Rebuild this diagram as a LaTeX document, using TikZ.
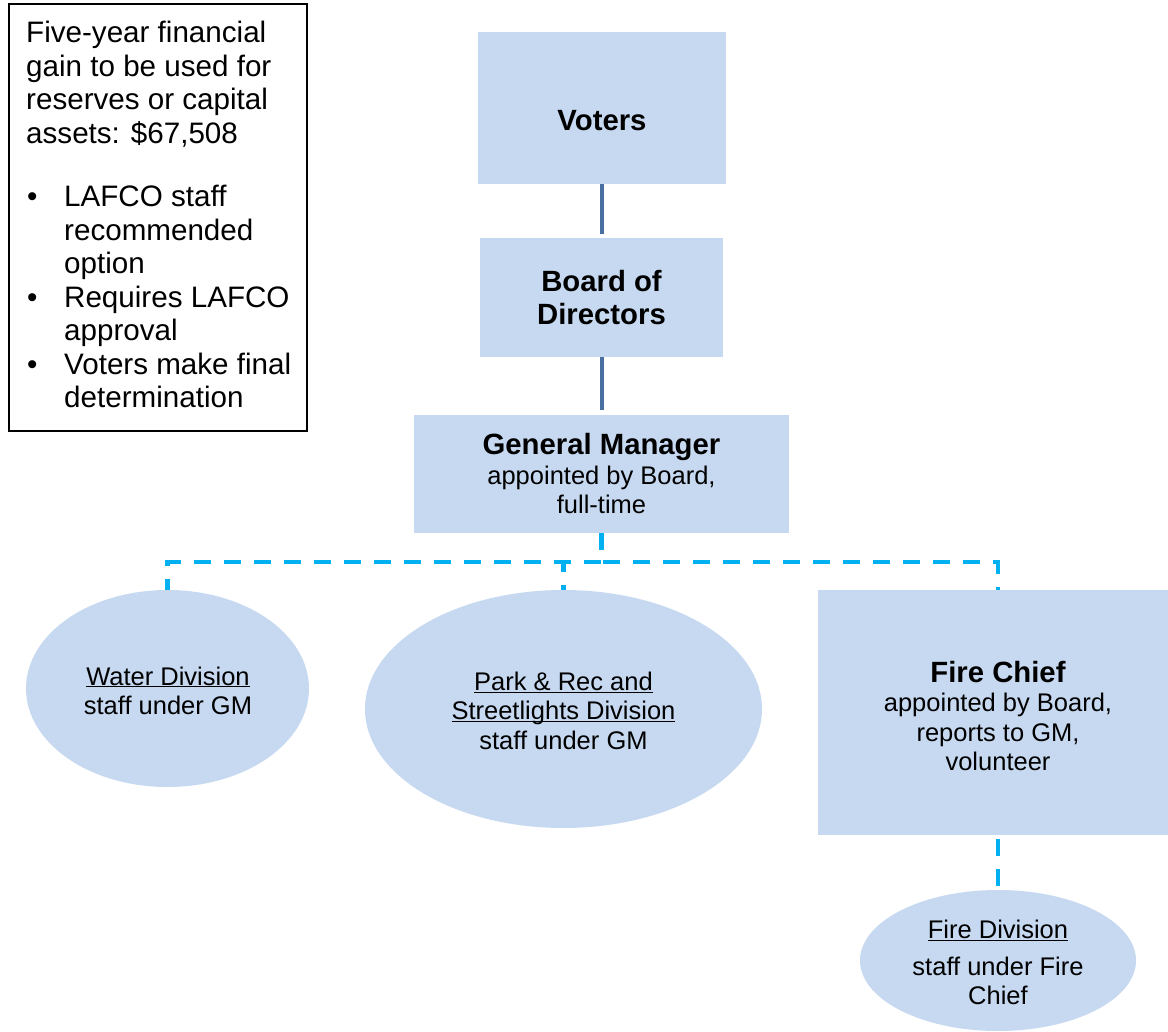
\documentclass[tikz,border=0pt]{standalone}
\usepackage{fontspec}
\setmainfont{Liberation Sans}
\usetikzlibrary{shapes.geometric}
\definecolor{boxblue}{HTML}{C6D9F1}
\definecolor{linedark}{HTML}{4A70A2}
\definecolor{dashblue}{HTML}{00B0F0}
\newcommand\myul[1]{\underline{\smash{#1}}}
\begin{document}
\begin{tikzpicture}[x=1pt,y=-1pt,
  bluebox/.style={rectangle,fill=boxblue,draw=none,inner sep=0pt,outer sep=0pt},
  blueell/.style={ellipse,fill=boxblue,draw=none,inner sep=0pt,outer sep=0pt},
  smalltext/.style={align=center,inner sep=0pt,font=\fontsize{25.5}{29.5}\selectfont},
  titletext/.style={align=center,inner sep=0pt,font=\fontsize{29.3}{33.5}\selectfont\bfseries},
  solidconn/.style={draw=linedark,line width=4pt},
  dashconn/.style={draw=dashblue,line width=4.3pt,dash pattern=on 17pt off 13pt}]
\fill[white] (0,0) rectangle (1168,1032);
\useasboundingbox (0,0) rectangle (1168,1032);

% info box
\node[draw=black,line width=1.3pt,minimum width=298pt,minimum height=427pt,inner sep=0pt] (info) at (158,217.5) {};
\node[anchor=north west,align=left,inner sep=0pt,font=\fontsize{29.6}{33.5}\selectfont] (infotext) at (26,21) {%
Five-year financial\\
gain to be used for\\
reserves or capital\\
assets: \$67,508\\[30pt]
\makebox[38pt][l]{\hspace*{1pt}\textbullet}LAFCO staff\\
\hspace*{38pt}recommended\\
\hspace*{38pt}option\\
\makebox[38pt][l]{\hspace*{1pt}\textbullet}Requires LAFCO\\
\hspace*{38pt}approval\\
\makebox[38pt][l]{\hspace*{1pt}\textbullet}Voters make final\\
\hspace*{38pt}determination};

% hierarchy boxes
\node[bluebox,minimum width=248pt,minimum height=152pt] (voters) at (602,108) {};
\node[titletext] (voterstext) at (602,121) {Voters};
\node[bluebox,minimum width=243pt,minimum height=119pt,titletext] (board) at (601.5,297.5) {Board of\\Directors};
\node[bluebox,minimum width=375pt,minimum height=118pt,smalltext] (gm) at (601.5,474)
  {{\fontsize{29.3}{33.5}\selectfont\bfseries General Manager}\\appointed by Board,\\full-time};
\node[bluebox,minimum width=360pt,minimum height=245pt] (chief) at (998,712.5) {};
\node[smalltext] (chieftext) at (998,716) 
  {{\fontsize{29.3}{33.5}\selectfont\bfseries Fire Chief}\\appointed by Board,\\reports to GM,\\volunteer};

% ellipses
\node[blueell,minimum width=283pt,minimum height=197pt] (water) at (167.5,688.5) {};
\node[smalltext] (watertext) at (168,700) {\myul{Water Division}\\staff under GM};
\node[blueell,minimum width=397pt,minimum height=238pt] (park) at (563.5,709) {};
\node[smalltext] (parktext) at (563.5,720) {\myul{Park \& Rec and}\\\myul{Streetlights Division}\\staff under GM};
\node[blueell,minimum width=276pt,minimum height=141pt] (firediv) at (998,960.5) {};
\node[smalltext] (firedivtext) at (998,972) {\myul{Fire Division}\\[7pt]staff under Fire\\Chief};

% connectors
\draw[solidconn,shorten >=4pt] (voters.south) -- (voters.south |- board.north);
\draw[solidconn,shorten >=5pt] (board.south) -- (board.south |- gm.north);
\draw[dashconn] (gm.south) -- ++(0,29) -| (water.north);
\draw[dashconn] (gm.south) -- ++(0,29) -| (park.north);
\draw[dashconn] (gm.south) -- ++(0,29) -| (chief.north);
\draw[dashconn,dash phase=-4pt] (chief.south) -- (firediv.north);
\end{tikzpicture}
\end{document}
